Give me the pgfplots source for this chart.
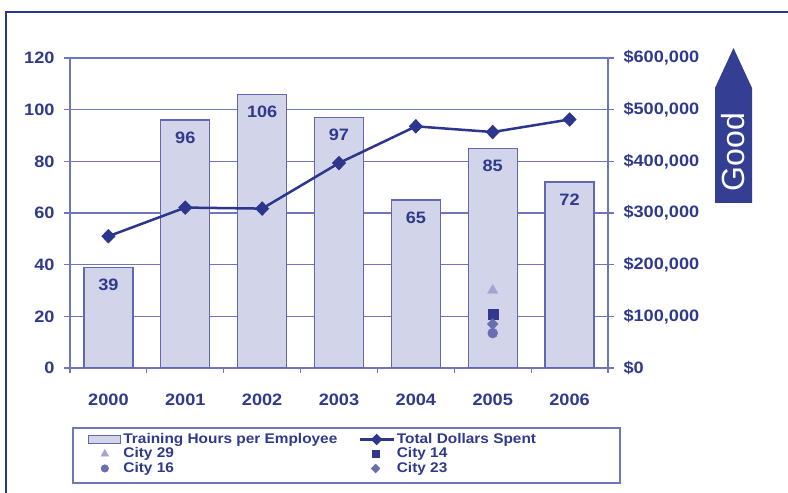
\documentclass[border=0pt]{standalone}
\usepackage{fontspec}
\setmainfont{Liberation Sans}[FakeStretch=1.1]
\newfontfamily\goodfont{Liberation Sans}
\usepackage{pgfplots}
\pgfplotsset{compat=1.18}
\definecolor{txt}{RGB}{48,58,140}
\definecolor{barfill}{RGB}{210,212,234}
\definecolor{bardraw}{RGB}{98,104,176}
\definecolor{gridc}{RGB}{112,118,188}
\definecolor{linec}{RGB}{44,54,140}
\definecolor{framec}{RGB}{40,55,140}
\definecolor{arrowc}{RGB}{52,62,146}
\definecolor{tri}{RGB}{160,165,212}
\definecolor{sq}{RGB}{50,56,142}
\definecolor{circ}{RGB}{104,110,176}
\definecolor{dia}{RGB}{104,110,176}
\pgfplotsset{
  common/.style={
    at={(70pt,125pt)}, anchor=south west, scale only axis,
    width=538pt, height=310pt, xmin=-0.5, xmax=6.5,
    tick align=outside, major tick length=6pt, minor tick length=5pt,
    tick style={gridc, line width=1.2pt},
    axis line style={gridc, line width=1.4pt},
    ticklabel style={font=\fontsize{16.5}{16.5}\selectfont\bfseries, text=txt},
    /pgf/number format/assume math mode=true,
  },
  legbar/.style={legend image code/.code={\draw[fill=barfill,draw=bardraw,line width=1.2pt] (0pt,-4pt) rectangle (32pt,4pt);}},
  legline/.style={legend image code/.code={\draw[##1] (0pt,0pt) -- (34pt,0pt); \draw[##1, mark size=4pt] plot coordinates {(17pt,0pt)};}},
  legmark/.style={legend image code/.code={\path (0pt,0pt) (#1,0pt); \draw[##1] plot coordinates {(16pt,0pt)};}},
}
\begin{document}
\begin{tikzpicture}
\useasboundingbox (0,0) rectangle (788pt,493pt);
\fill[white] (0,0) rectangle (788pt,493pt);
\draw[framec, line width=2.5pt] (6pt,0pt) -- (6pt,481pt) -- (788pt,481pt);
\draw[gridc, line width=1.5pt] (73pt,10pt) rectangle (620pt,65pt);
\begin{axis}[common,
  ymin=0, ymax=120, ytick={0,20,...,120}, ytick pos=left,
  xtick={0,...,6}, xticklabels={2000,2001,2002,2003,2004,2005,2006}, xtick pos=bottom,
  minor xtick={-0.5,0.5,...,6.5},
  major x tick style={draw=none},
  xticklabel style={yshift=-16pt},
  yticklabel style={xshift=-6pt},
  ymajorgrids, grid style={gridc, line width=1.2pt},
  every node near coord/.append style={font=\fontsize{16.5}{16.5}\selectfont\bfseries, text=txt, inner sep=0pt, yshift=-11pt},
]
\addplot[ybar, bar width=49pt, fill=barfill, draw=bardraw, line width=1.2pt,
  nodes near coords, nodes near coords align={below}]
  coordinates {(0,39) (1,96) (2,106) (3,97) (4,65) (5,85) (6,72)};
\addplot[only marks, mark=triangle*, mark size=6pt, color=tri] coordinates {(5,30)};
\addplot[only marks, mark=square*, mark size=5pt, color=sq] coordinates {(5,21)};
\addplot[only marks, mark=diamond*, mark size=5.5pt, mark options={xscale=1.3}, color=dia] coordinates {(5,17)};
\addplot[only marks, mark=*, mark size=5pt, color=circ] coordinates {(5,13.5)};
\end{axis}
\begin{axis}[common,
  ymin=0, ymax=600000, axis x line=none, axis y line*=right,
  ytick={0,100000,200000,300000,400000,500000,600000},
  yticklabels={\$0,{\$100,000},{\$200,000},{\$300,000},{\$400,000},{\$500,000},{\$600,000}},
  yticklabel style={xshift=6pt},
  scaled y ticks=false,
  legend columns=2, legend cell align=left,
  legend style={at={(axis description cs:0.0335,-0.2065)}, anchor=north west, draw=none, fill=none, inner sep=0pt,
    font=\fontsize{14}{14}\selectfont\bfseries, text=txt,
    nodes={inner sep=0pt, text height=11pt, text depth=3.5pt},
    /tikz/column 1/.style={column sep=2pt},
    /tikz/column 2/.style={column sep=21pt},
    /tikz/column 3/.style={column sep=2pt}},
]
\addlegendimage{legbar}
\addlegendentry{Training Hours per Employee}
\addplot[linec, line width=2.5pt, mark=diamond*, mark size=5.5pt, mark options={solid, xscale=1.3}, legline]
  coordinates {(0,255000) (1,310500) (2,308500) (3,396700) (4,467700) (5,456700) (6,481000)};
\addlegendentry{Total Dollars Spent}
\addlegendimage{only marks, mark=triangle*, mark size=4.5pt, color=tri, legmark=32pt}
\addlegendentry{City 29}
\addlegendimage{only marks, mark=square*, mark size=3.5pt, color=sq, legmark=34pt}
\addlegendentry{City 14}
\addlegendimage{only marks, mark=*, mark size=3.8pt, color=circ, legmark=32pt}
\addlegendentry{City 16}
\addlegendimage{only marks, mark=diamond*, mark size=4.5pt, mark options={xscale=1.3}, color=dia, legmark=34pt}
\addlegendentry{City 23}
\end{axis}
\fill[arrowc] (715pt,290pt) -- (715pt,405pt) -- (733.5pt,445pt) -- (752pt,405pt) -- (752pt,290pt) -- cycle;
\node[rotate=90, text=white, font=\goodfont\fontsize{32}{32}\selectfont, inner sep=0pt] at (733.5pt,341pt) {Good};
\end{tikzpicture}
\end{document}
